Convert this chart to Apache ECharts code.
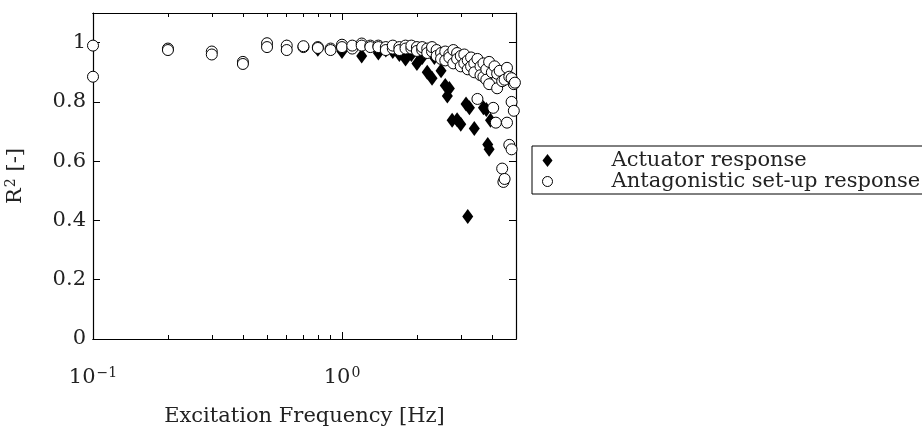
<!DOCTYPE html>
<html>
<head>
<meta charset="utf-8">
<script src="https://cdn.jsdelivr.net/npm/echarts@6/dist/echarts.min.js"></script>
<style>
  html, body { margin: 0; padding: 0; background: #fff; }
  #chart { width: 922px; height: 432px; }
</style>
</head>
<body>
<div id="chart"></div>
<script>
// Coefficient of determination per excitation frequency
const actuatorFreq = [0.6, 0.8, 1.0, 1.2, 1.4, 1.5, 1.6, 1.7, 1.8, 1.9, 2.0,
  2.1, 2.2, 2.3, 2.35, 2.5, 2.6, 2.65, 2.7, 2.77, 2.9, 3.0, 3.15, 3.2, 3.25, 3.4, 3.7, 3.8, 3.85, 3.9, 3.95];
const actuatorR2 = [0.985, 0.978, 0.97, 0.955, 0.965, 0.975, 0.97, 0.96, 0.945, 0.96, 0.93,
  0.95, 0.90, 0.88, 0.95, 0.905, 0.855, 0.82, 0.845, 0.738, 0.74, 0.725, 0.793, 0.413, 0.78, 0.71, 0.78, 0.774, 0.656, 0.64, 0.738];

const setupFreq = [0.1, 0.1, 0.2, 0.2, 0.3, 0.3, 0.4, 0.4, 0.5, 0.5, 0.6, 0.6, 0.7, 0.7, 0.8, 0.8, 0.9, 0.9, 1.0, 1.0,
  1.1, 1.1, 1.2, 1.2, 1.3, 1.3, 1.4, 1.4, 1.5, 1.5, 1.6, 1.6, 1.7, 1.7, 1.8, 1.8, 1.9, 1.9, 2.0, 2.0,
  2.1, 2.1, 2.2, 2.2, 2.3, 2.3, 2.4, 2.4, 2.5, 2.5, 2.6, 2.6, 2.7, 2.7, 2.8, 2.8, 2.9, 2.9, 3.0, 3.0,
  3.1, 3.1, 3.2, 3.2, 3.3, 3.3, 3.4, 3.4, 3.5, 3.5, 3.6, 3.6, 3.7, 3.7, 3.8, 3.8, 3.9, 3.9, 4.0, 4.05,
  4.1, 4.15, 4.2, 4.2, 4.3, 4.4, 4.4, 4.45, 4.5, 4.5, 4.6, 4.6, 4.7, 4.7, 4.8, 4.8, 4.8, 4.9, 4.9, 4.95];
const setupR2 = [0.99, 0.885, 0.98, 0.975, 0.97, 0.96, 0.935, 0.928, 0.998, 0.985, 0.99, 0.975, 0.985, 0.988, 0.985, 0.982, 0.98, 0.975, 0.993, 0.985,
  0.98, 0.99, 0.997, 0.99, 0.99, 0.985, 0.99, 0.985, 0.985, 0.975, 0.98, 0.99, 0.985, 0.975, 0.99, 0.98, 0.98, 0.99, 0.985, 0.972,
  0.975, 0.985, 0.98, 0.965, 0.97, 0.985, 0.975, 0.955, 0.965, 0.945, 0.97, 0.94, 0.96, 0.95, 0.975, 0.93, 0.965, 0.945, 0.955, 0.92,
  0.96, 0.93, 0.94, 0.91, 0.95, 0.92, 0.93, 0.90, 0.945, 0.81, 0.92, 0.89, 0.93, 0.885, 0.91, 0.875, 0.935, 0.86, 0.90, 0.78,
  0.92, 0.73, 0.895, 0.846, 0.905, 0.87, 0.575, 0.53, 0.875, 0.54, 0.915, 0.73, 0.885, 0.655, 0.80, 0.64, 0.88, 0.77, 0.86, 0.865];

const yTicks = [0, 0.2, 0.4, 0.6, 0.8, 1];
const xMajorTicks = [0.1, 1];
const xMinorTicks = [0.2, 0.3, 0.4, 0.5, 0.6, 0.7, 0.8, 0.9, 2, 3, 4];

const FONT = 'DejaVu Serif';
const INK = '#000';
const TEXT = '#222';

const pairs = (xs, ys) => xs.map((x, i) => [x, ys[i]]);

const logAxis = (position, values, len, withLabels) => ({
  type: 'log',
  logBase: 10,
  min: 0.1,
  max: 5,
  position: position,
  axisLine: { show: true, lineStyle: { color: INK, width: 1.2 } },
  axisTick: { show: true, inside: true, length: len, customValues: values, lineStyle: { color: INK, width: 1 } },
  splitLine: { show: false },
  axisLabel: withLabels ? {
    show: true,
    customValues: values,
    margin: 27,
    formatter: v => '{b|10}{s|' + (v < 0.5 ? '\u22121' : '0') + '}',
    rich: {
      b: { fontFamily: FONT, fontSize: 21, color: TEXT },
      s: { fontFamily: FONT, fontSize: 14, color: TEXT, verticalAlign: 'top', padding: [0, 0, 9, 1] }
    }
  } : { show: false }
});

const valAxis = (position, withLabels) => ({
  type: 'value',
  min: 0,
  max: 1.1,
  interval: 0.2,
  position: position,
  axisLine: { show: true, lineStyle: { color: INK, width: 1.2 } },
  axisTick: { show: true, inside: true, length: 7, customValues: yTicks, lineStyle: { color: INK, width: 1 } },
  splitLine: { show: false },
  axisLabel: withLabels ? {
    show: true,
    customValues: yTicks,
    margin: 7,
    fontFamily: FONT,
    fontSize: 21,
    color: TEXT
  } : { show: false }
});

const chart = echarts.init(document.getElementById('chart'), null, { renderer: 'canvas' });

const xMain = logAxis('bottom', xMajorTicks, 7, true);
xMain.name = 'Excitation Frequency [Hz]';
xMain.nameLocation = 'middle';
xMain.nameGap = 67;
xMain.nameTextStyle = { fontFamily: FONT, fontSize: 21, color: TEXT };

const yMain = valAxis('left', true);
yMain.name = '{a|R}{s|2}{a| [-]}';
yMain.nameLocation = 'middle';
yMain.nameRotate = 90;
yMain.nameGap = 66;
yMain.nameTextStyle = {
  rich: {
    a: { fontFamily: FONT, fontSize: 21, color: TEXT },
    s: { fontFamily: FONT, fontSize: 14, color: TEXT, verticalAlign: 'top', padding: [0, 0, 9, 1] }
  }
};

chart.setOption({
  animation: false,
  backgroundColor: '#fff',
  grid: { left: 93, right: 406, top: 13, bottom: 84, containLabel: false },
  xAxis: [
    xMain,
    logAxis('bottom', xMinorTicks, 4, false),
    logAxis('top', xMajorTicks, 7, false),
    logAxis('top', xMinorTicks, 4, false)
  ],
  yAxis: [
    yMain,
    valAxis('right', false)
  ],
  legend: {
    orient: 'vertical',
    left: 532,
    top: 146,
    itemWidth: 10,
    itemHeight: 13,
    itemGap: 0,
    padding: [4, 4, 2, 10],
    borderColor: INK,
    borderWidth: 1,
    textStyle: { fontFamily: FONT, fontSize: 21, lineHeight: 19, color: TEXT, padding: [0, 0, 0, 54] },
    data: [
      { name: 'Actuator response', icon: 'diamond' },
      { name: 'Antagonistic set-up response', icon: 'circle', itemStyle: { color: '#fff', borderColor: INK, borderWidth: 1 } }
    ]
  },
  series: [
    {
      name: 'Actuator response',
      type: 'scatter',
      xAxisIndex: 0,
      yAxisIndex: 0,
      symbol: 'diamond',
      symbolSize: [11, 15],
      itemStyle: { color: INK, opacity: 1 },
      z: 2,
      data: pairs(actuatorFreq, actuatorR2)
    },
    {
      name: 'Antagonistic set-up response',
      type: 'scatter',
      xAxisIndex: 0,
      yAxisIndex: 0,
      symbol: 'circle',
      symbolSize: 11,
      itemStyle: { color: '#fff', borderColor: INK, borderWidth: 1, opacity: 1 },
      z: 3,
      data: pairs(setupFreq, setupR2)
    }
  ]
});
</script>
</body>
</html>
